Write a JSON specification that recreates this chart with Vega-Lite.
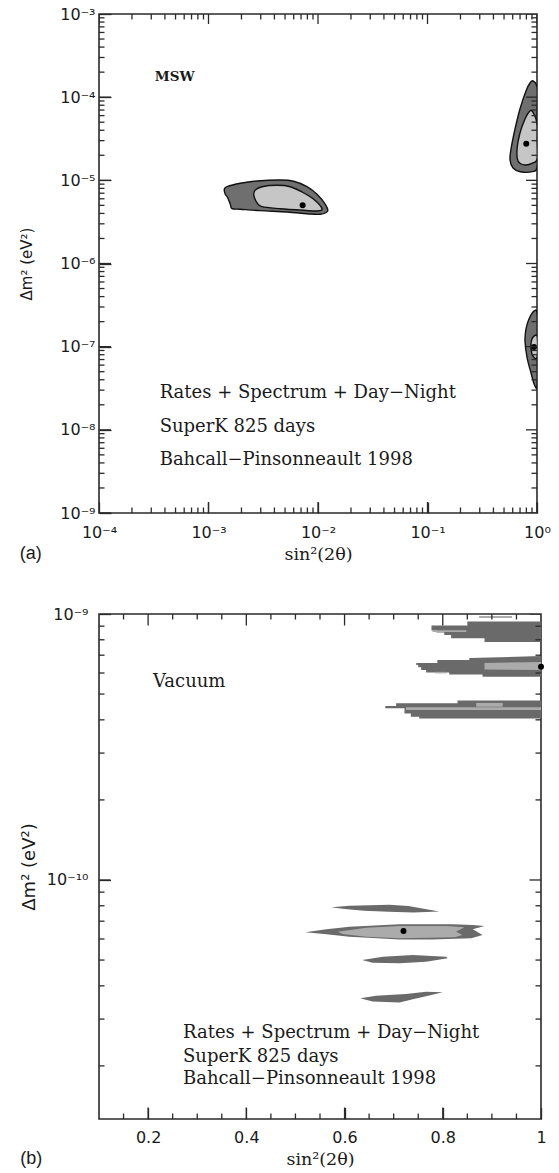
{
  "$schema": "https://vega.github.io/schema/vega-lite/v6.json",
  "padding": {"left": 18, "top": 5, "right": 5, "bottom": 5},
  "background": "white",
  "config": {
    "view": {"stroke": "#2a2a2a", "strokeWidth": 1.6},
    "axis": {"grid": false, "domain": false, "ticks": true, "tickOpacity": 1, "tickColor": "#2a2a2a", "labelColor": "#1a1a1a", "titleColor": "#1a1a1a", "labelFont": "DejaVu Sans", "labelFontSize": 16, "tickWidth": 1.3, "zindex": 1, "labelFlush": false, "labelOverlap": false, "labelBound": false, "titleFontWeight": "normal"},
    "title": {"font": "Liberation Sans", "fontSize": 18, "fontWeight": "normal", "color": "#1a1a1a"},
    "tick": {"opacity": 1, "color": "#2a2a2a", "thickness": 1.3}
  },
  "datasets": {
    "aXmaj": [{"v": 0.0001}, {"v": 0.001}, {"v": 0.01}, {"v": 0.1}, {"v": 1}],
    "aXmin": [{"v": 0.0002},{"v": 0.0003},{"v": 0.0004},{"v": 0.0005},{"v": 0.0006},{"v": 0.0007},{"v": 0.0008},{"v": 0.0009},{"v": 0.002},{"v": 0.003},{"v": 0.004},{"v": 0.005},{"v": 0.006},{"v": 0.007},{"v": 0.008},{"v": 0.009},{"v": 0.02},{"v": 0.03},{"v": 0.04},{"v": 0.05},{"v": 0.06},{"v": 0.07},{"v": 0.08},{"v": 0.09},{"v": 0.2},{"v": 0.3},{"v": 0.4},{"v": 0.5},{"v": 0.6},{"v": 0.7},{"v": 0.8},{"v": 0.9}],
    "aYmaj": [{"v": 1e-9}, {"v": 1e-8}, {"v": 1e-7}, {"v": 1e-6}, {"v": 1e-5}, {"v": 1e-4}, {"v": 1e-3}],
    "aYmin": [{"v": 2e-9},{"v": 3e-9},{"v": 4e-9},{"v": 5e-9},{"v": 6e-9},{"v": 7e-9},{"v": 8e-9},{"v": 9e-9},{"v": 2e-8},{"v": 3e-8},{"v": 4e-8},{"v": 5e-8},{"v": 6e-8},{"v": 7e-8},{"v": 8e-8},{"v": 9e-8},{"v": 2e-7},{"v": 3e-7},{"v": 4e-7},{"v": 5e-7},{"v": 6e-7},{"v": 7e-7},{"v": 8e-7},{"v": 9e-7},{"v": 2e-6},{"v": 3e-6},{"v": 4e-6},{"v": 5e-6},{"v": 6e-6},{"v": 7e-6},{"v": 8e-6},{"v": 9e-6},{"v": 2e-5},{"v": 3e-5},{"v": 4e-5},{"v": 5e-5},{"v": 6e-5},{"v": 7e-5},{"v": 8e-5},{"v": 9e-5},{"v": 2e-4},{"v": 3e-4},{"v": 4e-4},{"v": 5e-4},{"v": 6e-4},{"v": 7e-4},{"v": 8e-4},{"v": 9e-4}],
    "bXmaj": [{"v": 0.2}, {"v": 0.4}, {"v": 0.6}, {"v": 0.8}],
    "bXmin": [{"v": 0.15},{"v": 0.25},{"v": 0.3},{"v": 0.35},{"v": 0.45},{"v": 0.5},{"v": 0.55},{"v": 0.65},{"v": 0.7},{"v": 0.75},{"v": 0.85},{"v": 0.9},{"v": 0.95}],
    "bYmaj": [{"v": 1e-10}, {"v": 1e-9}],
    "bYmin": [{"v": 2e-11},{"v": 3e-11},{"v": 4e-11},{"v": 5e-11},{"v": 6e-11},{"v": 7e-11},{"v": 8e-11},{"v": 9e-11},{"v": 2e-10},{"v": 3e-10},{"v": 4e-10},{"v": 5e-10},{"v": 6e-10},{"v": 7e-10},{"v": 8e-10},{"v": 9e-10}],
    "aOuter": [
      {"r": "sma", "i": 0, "x": 0.001394, "y": 7.80e-6},
      {"r": "sma", "i": 1, "x": 0.001475, "y": 8.38e-6},
      {"r": "sma", "i": 2, "x": 0.001951, "y": 9.21e-6},
      {"r": "sma", "i": 3, "x": 0.002773, "y": 9.82e-6},
      {"r": "sma", "i": 4, "x": 0.004525, "y": 1.009e-5},
      {"r": "sma", "i": 5, "x": 0.00600, "y": 9.74e-6},
      {"r": "sma", "i": 6, "x": 0.00793, "y": 8.38e-6},
      {"r": "sma", "i": 7, "x": 0.00979, "y": 6.80e-6},
      {"r": "sma", "i": 8, "x": 0.01166, "y": 5.15e-6},
      {"r": "sma", "i": 9, "x": 0.01226, "y": 4.28e-6},
      {"r": "sma", "i": 10, "x": 0.01050, "y": 3.91e-6},
      {"r": "sma", "i": 11, "x": 0.00793, "y": 3.97e-6},
      {"r": "sma", "i": 12, "x": 0.00521, "y": 4.16e-6},
      {"r": "sma", "i": 13, "x": 0.002972, "y": 4.32e-6},
      {"r": "sma", "i": 14, "x": 0.001951, "y": 4.49e-6},
      {"r": "sma", "i": 15, "x": 0.001639, "y": 4.56e-6},
      {"r": "sma", "i": 16, "x": 0.001582, "y": 5.15e-6},
      {"r": "sma", "i": 17, "x": 0.001497, "y": 6.18e-6},
      {"r": "sma", "i": 18, "x": 0.001423, "y": 6.80e-6},
      {"r": "lma", "i": 0, "x": 0.919, "y": 1.57e-4},
      {"r": "lma", "i": 1, "x": 1.0, "y": 1.33e-4},
      {"r": "lma", "i": 2, "x": 1.0, "y": 7e-5},
      {"r": "lma", "i": 3, "x": 1.0, "y": 3e-5},
      {"r": "lma", "i": 4, "x": 1.0, "y": 1.45e-5},
      {"r": "lma", "i": 5, "x": 0.900, "y": 1.27e-5},
      {"r": "lma", "i": 6, "x": 0.704, "y": 1.27e-5},
      {"r": "lma", "i": 7, "x": 0.604, "y": 1.41e-5},
      {"r": "lma", "i": 8, "x": 0.567, "y": 1.76e-5},
      {"r": "lma", "i": 9, "x": 0.579, "y": 2.38e-5},
      {"r": "lma", "i": 10, "x": 0.630, "y": 4.14e-5},
      {"r": "lma", "i": 11, "x": 0.699, "y": 7.21e-5},
      {"r": "lma", "i": 12, "x": 0.793, "y": 1.19e-4},
      {"r": "lma", "i": 13, "x": 0.863, "y": 1.48e-4},
      {"r": "low", "i": 0, "x": 0.945, "y": 2.69e-7},
      {"r": "low", "i": 1, "x": 1.0, "y": 2.47e-7},
      {"r": "low", "i": 2, "x": 1.0, "y": 1.0e-7},
      {"r": "low", "i": 3, "x": 1.0, "y": 3.46e-8},
      {"r": "low", "i": 4, "x": 0.949, "y": 3.46e-8},
      {"r": "low", "i": 5, "x": 0.882, "y": 4.83e-8},
      {"r": "low", "i": 6, "x": 0.810, "y": 7.51e-8},
      {"r": "low", "i": 7, "x": 0.777, "y": 1.17e-7},
      {"r": "low", "i": 8, "x": 0.793, "y": 1.63e-7},
      {"r": "low", "i": 9, "x": 0.845, "y": 2.15e-7}
    ],
    "aInner": [
      {"r": "sma", "i": 0, "x": 0.002587, "y": 6.80e-6},
      {"r": "sma", "i": 1, "x": 0.002675, "y": 7.65e-6},
      {"r": "sma", "i": 2, "x": 0.003080, "y": 8.38e-6},
      {"r": "sma", "i": 3, "x": 0.004222, "y": 8.71e-6},
      {"r": "sma", "i": 4, "x": 0.005585, "y": 8.38e-6},
      {"r": "sma", "i": 5, "x": 0.00714, "y": 7.24e-6},
      {"r": "sma", "i": 6, "x": 0.00913, "y": 5.92e-6},
      {"r": "sma", "i": 7, "x": 0.01088, "y": 4.56e-6},
      {"r": "sma", "i": 8, "x": 0.00979, "y": 4.28e-6},
      {"r": "sma", "i": 9, "x": 0.00740, "y": 4.36e-6},
      {"r": "sma", "i": 10, "x": 0.004525, "y": 4.56e-6},
      {"r": "sma", "i": 11, "x": 0.003080, "y": 4.82e-6},
      {"r": "sma", "i": 12, "x": 0.002773, "y": 5.38e-6},
      {"r": "sma", "i": 13, "x": 0.002642, "y": 6.08e-6},
      {"r": "lma", "i": 0, "x": 0.900, "y": 6.82e-5},
      {"r": "lma", "i": 1, "x": 0.979, "y": 5.46e-5},
      {"r": "lma", "i": 2, "x": 1.0, "y": 4.50e-5},
      {"r": "lma", "i": 3, "x": 1.0, "y": 3.0e-5},
      {"r": "lma", "i": 4, "x": 1.0, "y": 1.8e-5},
      {"r": "lma", "i": 5, "x": 0.919, "y": 1.62e-5},
      {"r": "lma", "i": 6, "x": 0.777, "y": 1.53e-5},
      {"r": "lma", "i": 7, "x": 0.671, "y": 1.71e-5},
      {"r": "lma", "i": 8, "x": 0.657, "y": 2.38e-5},
      {"r": "lma", "i": 9, "x": 0.699, "y": 3.71e-5},
      {"r": "lma", "i": 10, "x": 0.777, "y": 5.46e-5},
      {"r": "lma", "i": 11, "x": 0.845, "y": 6.63e-5},
      {"r": "low", "i": 0, "x": 0.900, "y": 1.24e-7},
      {"r": "low", "i": 1, "x": 1.0, "y": 1.34e-7},
      {"r": "low", "i": 2, "x": 1.0, "y": 7.5e-8},
      {"r": "low", "i": 3, "x": 0.919, "y": 7.7e-8},
      {"r": "low", "i": 4, "x": 0.882, "y": 9.6e-8}
    ],
    "aDots": [
      {"x": 0.00724, "y": 5.0e-6},
      {"x": 0.798, "y": 2.76e-5},
      {"x": 0.939, "y": 9.9e-8}
    ],
    "aNotes": [
      {"x": 0.000358, "y": 2.394e-8, "t": "Rates + Spectrum + Day−Night"},
      {"x": 0.000358, "y": 9.50e-9, "t": "SuperK 825 days"},
      {"x": 0.000358, "y": 3.78e-9, "t": "Bahcall−Pinsonneault 1998"}
    ],
    "aLabel": [
      {"x": 0.000323, "y": 1.565e-4, "t": "MSW"}
    ],
    "bOuter": [
      {"r": "b1", "i": 0, "x": 1.0, "y": 9.37e-10},
      {"r": "b1", "i": 1, "x": 0.850, "y": 9.37e-10},
      {"r": "b1", "i": 2, "x": 0.850, "y": 9.05e-10},
      {"r": "b1", "i": 3, "x": 0.777, "y": 9.05e-10},
      {"r": "b1", "i": 4, "x": 0.777, "y": 8.67e-10},
      {"r": "b1", "i": 5, "x": 0.787, "y": 8.67e-10},
      {"r": "b1", "i": 6, "x": 0.787, "y": 8.52e-10},
      {"r": "b1", "i": 7, "x": 0.803, "y": 8.52e-10},
      {"r": "b1", "i": 8, "x": 0.803, "y": 8.34e-10},
      {"r": "b1", "i": 9, "x": 0.817, "y": 8.34e-10},
      {"r": "b1", "i": 10, "x": 0.817, "y": 8.10e-10},
      {"r": "b1", "i": 11, "x": 0.885, "y": 8.10e-10},
      {"r": "b1", "i": 12, "x": 0.885, "y": 7.85e-10},
      {"r": "b1", "i": 13, "x": 1.0, "y": 7.85e-10},
      {"r": "b2", "i": 0, "x": 1.0, "y": 6.95e-10},
      {"r": "b2", "i": 1, "x": 0.854, "y": 6.83e-10},
      {"r": "b2", "i": 2, "x": 0.854, "y": 6.72e-10},
      {"r": "b2", "i": 3, "x": 0.789, "y": 6.72e-10},
      {"r": "b2", "i": 4, "x": 0.789, "y": 6.54e-10},
      {"r": "b2", "i": 5, "x": 0.746, "y": 6.54e-10},
      {"r": "b2", "i": 6, "x": 0.746, "y": 6.43e-10},
      {"r": "b2", "i": 7, "x": 0.750, "y": 6.43e-10},
      {"r": "b2", "i": 8, "x": 0.750, "y": 6.30e-10},
      {"r": "b2", "i": 9, "x": 0.756, "y": 6.30e-10},
      {"r": "b2", "i": 10, "x": 0.756, "y": 6.16e-10},
      {"r": "b2", "i": 11, "x": 0.766, "y": 6.16e-10},
      {"r": "b2", "i": 12, "x": 0.766, "y": 6.02e-10},
      {"r": "b2", "i": 13, "x": 0.813, "y": 6.02e-10},
      {"r": "b2", "i": 14, "x": 0.813, "y": 5.92e-10},
      {"r": "b2", "i": 15, "x": 0.881, "y": 5.92e-10},
      {"r": "b2", "i": 16, "x": 0.881, "y": 5.81e-10},
      {"r": "b2", "i": 17, "x": 1.0, "y": 5.81e-10},
      {"r": "b3", "i": 0, "x": 1.0, "y": 4.73e-10},
      {"r": "b3", "i": 1, "x": 0.830, "y": 4.73e-10},
      {"r": "b3", "i": 2, "x": 0.830, "y": 4.62e-10},
      {"r": "b3", "i": 3, "x": 0.705, "y": 4.62e-10},
      {"r": "b3", "i": 4, "x": 0.705, "y": 4.51e-10},
      {"r": "b3", "i": 5, "x": 0.683, "y": 4.51e-10},
      {"r": "b3", "i": 6, "x": 0.683, "y": 4.42e-10},
      {"r": "b3", "i": 7, "x": 0.722, "y": 4.42e-10},
      {"r": "b3", "i": 8, "x": 0.722, "y": 4.23e-10},
      {"r": "b3", "i": 9, "x": 0.735, "y": 4.23e-10},
      {"r": "b3", "i": 10, "x": 0.735, "y": 4.11e-10},
      {"r": "b3", "i": 11, "x": 0.752, "y": 4.11e-10},
      {"r": "b3", "i": 12, "x": 0.752, "y": 4.05e-10},
      {"r": "b3", "i": 13, "x": 1.0, "y": 4.05e-10},
      {"r": "la", "i": 0, "x": 0.573, "y": 7.89e-11},
      {"r": "la", "i": 1, "x": 0.610, "y": 8.0e-11},
      {"r": "la", "i": 2, "x": 0.691, "y": 8.07e-11},
      {"r": "la", "i": 3, "x": 0.730, "y": 7.98e-11},
      {"r": "la", "i": 4, "x": 0.793, "y": 7.62e-11},
      {"r": "la", "i": 5, "x": 0.740, "y": 7.55e-11},
      {"r": "la", "i": 6, "x": 0.690, "y": 7.60e-11},
      {"r": "la", "i": 7, "x": 0.640, "y": 7.67e-11},
      {"r": "la", "i": 8, "x": 0.600, "y": 7.78e-11},
      {"r": "lb", "i": 0, "x": 0.520, "y": 6.36e-11},
      {"r": "lb", "i": 1, "x": 0.563, "y": 6.53e-11},
      {"r": "lb", "i": 2, "x": 0.610, "y": 6.67e-11},
      {"r": "lb", "i": 3, "x": 0.712, "y": 6.82e-11},
      {"r": "lb", "i": 4, "x": 0.820, "y": 6.82e-11},
      {"r": "lb", "i": 5, "x": 0.861, "y": 6.77e-11},
      {"r": "lb", "i": 6, "x": 0.885, "y": 6.72e-11},
      {"r": "lb", "i": 7, "x": 0.861, "y": 6.53e-11},
      {"r": "lb", "i": 8, "x": 0.881, "y": 6.21e-11},
      {"r": "lb", "i": 9, "x": 0.858, "y": 6.04e-11},
      {"r": "lb", "i": 10, "x": 0.779, "y": 5.98e-11},
      {"r": "lb", "i": 11, "x": 0.712, "y": 5.98e-11},
      {"r": "lb", "i": 12, "x": 0.610, "y": 6.12e-11},
      {"r": "lb", "i": 13, "x": 0.563, "y": 6.25e-11},
      {"r": "lc", "i": 0, "x": 0.636, "y": 5.00e-11},
      {"r": "lc", "i": 1, "x": 0.678, "y": 5.15e-11},
      {"r": "lc", "i": 2, "x": 0.739, "y": 5.22e-11},
      {"r": "lc", "i": 3, "x": 0.807, "y": 5.15e-11},
      {"r": "lc", "i": 4, "x": 0.810, "y": 5.08e-11},
      {"r": "lc", "i": 5, "x": 0.766, "y": 4.93e-11},
      {"r": "lc", "i": 6, "x": 0.712, "y": 4.86e-11},
      {"r": "lc", "i": 7, "x": 0.657, "y": 4.89e-11},
      {"r": "ld", "i": 0, "x": 0.632, "y": 3.59e-11},
      {"r": "ld", "i": 1, "x": 0.664, "y": 3.67e-11},
      {"r": "ld", "i": 2, "x": 0.725, "y": 3.73e-11},
      {"r": "ld", "i": 3, "x": 0.766, "y": 3.80e-11},
      {"r": "ld", "i": 4, "x": 0.800, "y": 3.78e-11},
      {"r": "ld", "i": 5, "x": 0.779, "y": 3.70e-11},
      {"r": "ld", "i": 6, "x": 0.739, "y": 3.56e-11},
      {"r": "ld", "i": 7, "x": 0.712, "y": 3.46e-11},
      {"r": "ld", "i": 8, "x": 0.657, "y": 3.49e-11}
    ],
    "bInner": [
      {"r": "s1", "i": 0, "x": 0.874, "y": 9.83e-10},
      {"r": "s1", "i": 1, "x": 0.941, "y": 9.83e-10},
      {"r": "s1", "i": 2, "x": 0.941, "y": 9.66e-10},
      {"r": "s1", "i": 3, "x": 0.874, "y": 9.66e-10},
      {"r": "s2", "i": 0, "x": 0.779, "y": 8.68e-10},
      {"r": "s2", "i": 1, "x": 0.848, "y": 8.68e-10},
      {"r": "s2", "i": 2, "x": 0.848, "y": 8.56e-10},
      {"r": "s2", "i": 3, "x": 0.779, "y": 8.56e-10},
      {"r": "s3", "i": 0, "x": 0.885, "y": 6.54e-10},
      {"r": "s3", "i": 1, "x": 1.0, "y": 6.60e-10},
      {"r": "s3", "i": 2, "x": 1.0, "y": 6.16e-10},
      {"r": "s3", "i": 3, "x": 0.885, "y": 6.19e-10},
      {"r": "s4", "i": 0, "x": 0.784, "y": 6.06e-10},
      {"r": "s4", "i": 1, "x": 0.808, "y": 6.06e-10},
      {"r": "s4", "i": 2, "x": 0.808, "y": 5.98e-10},
      {"r": "s4", "i": 3, "x": 0.784, "y": 5.98e-10},
      {"r": "s5", "i": 0, "x": 0.868, "y": 4.63e-10},
      {"r": "s5", "i": 1, "x": 0.922, "y": 4.63e-10},
      {"r": "s5", "i": 2, "x": 0.922, "y": 4.48e-10},
      {"r": "s5", "i": 3, "x": 0.868, "y": 4.48e-10},
      {"r": "s6", "i": 0, "x": 0.725, "y": 4.46e-10},
      {"r": "s6", "i": 1, "x": 1.0, "y": 4.46e-10},
      {"r": "s6", "i": 2, "x": 1.0, "y": 4.36e-10},
      {"r": "s6", "i": 3, "x": 0.725, "y": 4.36e-10},
      {"r": "lb", "i": 0, "x": 0.586, "y": 6.39e-11},
      {"r": "lb", "i": 1, "x": 0.644, "y": 6.62e-11},
      {"r": "lb", "i": 2, "x": 0.712, "y": 6.72e-11},
      {"r": "lb", "i": 3, "x": 0.807, "y": 6.72e-11},
      {"r": "lb", "i": 4, "x": 0.844, "y": 6.64e-11},
      {"r": "lb", "i": 5, "x": 0.827, "y": 6.39e-11},
      {"r": "lb", "i": 6, "x": 0.840, "y": 6.21e-11},
      {"r": "lb", "i": 7, "x": 0.824, "y": 6.09e-11},
      {"r": "lb", "i": 8, "x": 0.712, "y": 6.04e-11},
      {"r": "lb", "i": 9, "x": 0.644, "y": 6.12e-11},
      {"r": "lb", "i": 10, "x": 0.596, "y": 6.27e-11}
    ],
    "bDots": [
      {"x": 1.0, "y": 6.33e-10},
      {"x": 0.720, "y": 6.43e-11}
    ],
    "bNotes": [
      {"x": 0.21, "y": 5.31e-10, "t": "Vacuum"},
      {"x": 0.271, "y": 2.547e-11, "t": "Rates + Spectrum + Day−Night"},
      {"x": 0.271, "y": 2.07e-11, "t": "SuperK 825 days"},
      {"x": 0.271, "y": 1.71e-11, "t": "Bahcall−Pinsonneault 1998"}
    ]
  },
  "spacing": 41,
  "vconcat": [
    {
      "width": 438,
      "height": 499,
      "title": {"text": "(a)", "orient": "bottom", "anchor": "start", "frame": "bounds", "baseline": "alphabetic", "offset": -4},
      "resolve": {"axis": {"x": "independent", "y": "independent"}},
      "layer": [
        {
          "data": {"name": "aOuter"},
          "mark": {"type": "line", "interpolate": "cardinal-closed", "fill": "#6f6f6f", "stroke": "#111111", "strokeWidth": 1.4, "clip": true},
          "encoding": {
            "x": {"field": "x", "type": "quantitative", "scale": {"type": "log", "domain": [0.0001, 1], "nice": false},
              "axis": {"orient": "bottom", "values": [0.0001, 0.001, 0.01, 0.1, 1], "offset": -11, "tickSize": 11, "labelPadding": 11,
                "labelExpr": "'10' + (datum.value < 0.5 ? '⁻' : '') + substring('⁰¹²³⁴⁵⁶⁷⁸⁹', abs(round(log(datum.value)/LN10)), abs(round(log(datum.value)/LN10)) + 1)",
                "title": "sin²(2θ)", "titleFont": "DejaVu Serif", "titleFontSize": 17.5, "titlePadding": 5}},
            "y": {"field": "y", "type": "quantitative", "scale": {"type": "log", "domain": [1e-9, 0.001], "nice": false},
              "axis": {"orient": "left", "values": [1e-9, 1e-8, 1e-7, 1e-6, 1e-5, 1e-4, 1e-3], "offset": -12, "tickSize": 12, "labelPadding": 4,
                "labelExpr": "'10' + (datum.value < 0.5 ? '⁻' : '') + substring('⁰¹²³⁴⁵⁶⁷⁸⁹', abs(round(log(datum.value)/LN10)), abs(round(log(datum.value)/LN10)) + 1)",
                "title": "Δm² (eV²)", "titleFont": "DejaVu Sans", "titleFontSize": 15, "titlePadding": 25}},
            "detail": {"field": "r"},
            "order": {"field": "i", "type": "quantitative"}
          }
        },
        {
          "data": {"name": "aInner"},
          "mark": {"type": "line", "interpolate": "cardinal-closed", "fill": "#c6c6c6", "stroke": "#111111", "strokeWidth": 1.4, "clip": true},
          "encoding": {
            "x": {"field": "x", "type": "quantitative", "scale": {"type": "log", "domain": [0.0001, 1], "nice": false}, "axis": null},
            "y": {"field": "y", "type": "quantitative", "scale": {"type": "log", "domain": [1e-9, 0.001], "nice": false}, "axis": null},
            "detail": {"field": "r"},
            "order": {"field": "i", "type": "quantitative"}
          }
        },
        {
          "data": {"name": "aDots"},
          "mark": {"type": "circle", "size": 36, "color": "#000000", "opacity": 1},
          "encoding": {
            "x": {"field": "x", "type": "quantitative", "scale": {"type": "log", "domain": [0.0001, 1], "nice": false}, "axis": null},
            "y": {"field": "y", "type": "quantitative", "scale": {"type": "log", "domain": [1e-9, 0.001], "nice": false}, "axis": null}
          }
        },
        {
          "data": {"name": "aNotes"},
          "mark": {"type": "text", "align": "left", "baseline": "alphabetic", "font": "DejaVu Serif", "fontSize": 18, "color": "#1a1a1a"},
          "encoding": {
            "x": {"field": "x", "type": "quantitative", "scale": {"type": "log", "domain": [0.0001, 1], "nice": false}, "axis": null},
            "y": {"field": "y", "type": "quantitative", "scale": {"type": "log", "domain": [1e-9, 0.001], "nice": false}, "axis": null},
            "text": {"field": "t"}
          }
        },
        {
          "data": {"name": "aLabel"},
          "mark": {"type": "text", "align": "left", "baseline": "alphabetic", "font": "DejaVu Serif", "fontSize": 13.5, "fontWeight": "bold", "color": "#1a1a1a"},
          "encoding": {
            "x": {"field": "x", "type": "quantitative", "scale": {"type": "log", "domain": [0.0001, 1], "nice": false}, "axis": null},
            "y": {"field": "y", "type": "quantitative", "scale": {"type": "log", "domain": [1e-9, 0.001], "nice": false}, "axis": null},
            "text": {"field": "t"}
          }
        },
        {
          "data": {"name": "aXmaj"},
          "mark": {"type": "tick", "orient": "vertical", "size": 22, "thickness": 1.3, "color": "#2a2a2a", "opacity": 1, "clip": true},
          "encoding": {
            "x": {"field": "v", "type": "quantitative", "scale": {"type": "log", "domain": [0.0001, 1], "nice": false}, "axis": null},
            "y": {"datum": 1e-9, "type": "quantitative", "scale": {"type": "log", "domain": [1e-9, 0.001], "nice": false}, "axis": null}
          }
        },
        {
          "data": {"name": "aXmaj"},
          "mark": {"type": "tick", "orient": "vertical", "size": 20, "thickness": 1.3, "color": "#2a2a2a", "opacity": 1, "clip": true},
          "encoding": {
            "x": {"field": "v", "type": "quantitative", "scale": {"type": "log", "domain": [0.0001, 1], "nice": false}, "axis": null},
            "y": {"datum": 0.001, "type": "quantitative", "scale": {"type": "log", "domain": [1e-9, 0.001], "nice": false}, "axis": null}
          }
        },
        {
          "data": {"name": "aXmin"},
          "mark": {"type": "tick", "orient": "vertical", "size": 11, "thickness": 1.3, "color": "#2a2a2a", "opacity": 1, "clip": true},
          "encoding": {
            "x": {"field": "v", "type": "quantitative", "scale": {"type": "log", "domain": [0.0001, 1], "nice": false}, "axis": null},
            "y": {"datum": 1e-9, "type": "quantitative", "scale": {"type": "log", "domain": [1e-9, 0.001], "nice": false}, "axis": null}
          }
        },
        {
          "data": {"name": "aXmin"},
          "mark": {"type": "tick", "orient": "vertical", "size": 11, "thickness": 1.3, "color": "#2a2a2a", "opacity": 1, "clip": true},
          "encoding": {
            "x": {"field": "v", "type": "quantitative", "scale": {"type": "log", "domain": [0.0001, 1], "nice": false}, "axis": null},
            "y": {"datum": 0.001, "type": "quantitative", "scale": {"type": "log", "domain": [1e-9, 0.001], "nice": false}, "axis": null}
          }
        },
        {
          "data": {"name": "aYmaj"},
          "mark": {"type": "tick", "orient": "horizontal", "size": 24, "thickness": 1.3, "color": "#2a2a2a", "opacity": 1, "clip": true},
          "encoding": {
            "x": {"datum": 0.0001, "type": "quantitative", "scale": {"type": "log", "domain": [0.0001, 1], "nice": false}, "axis": null},
            "y": {"field": "v", "type": "quantitative", "scale": {"type": "log", "domain": [1e-9, 0.001], "nice": false}, "axis": null}
          }
        },
        {
          "data": {"name": "aYmaj"},
          "mark": {"type": "tick", "orient": "horizontal", "size": 22, "thickness": 1.3, "color": "#2a2a2a", "opacity": 1, "clip": true},
          "encoding": {
            "x": {"datum": 1, "type": "quantitative", "scale": {"type": "log", "domain": [0.0001, 1], "nice": false}, "axis": null},
            "y": {"field": "v", "type": "quantitative", "scale": {"type": "log", "domain": [1e-9, 0.001], "nice": false}, "axis": null}
          }
        },
        {
          "data": {"name": "aYmin"},
          "mark": {"type": "tick", "orient": "horizontal", "size": 11, "thickness": 1.3, "color": "#2a2a2a", "opacity": 1, "clip": true},
          "encoding": {
            "x": {"datum": 0.0001, "type": "quantitative", "scale": {"type": "log", "domain": [0.0001, 1], "nice": false}, "axis": null},
            "y": {"field": "v", "type": "quantitative", "scale": {"type": "log", "domain": [1e-9, 0.001], "nice": false}, "axis": null}
          }
        },
        {
          "data": {"name": "aYmin"},
          "mark": {"type": "tick", "orient": "horizontal", "size": 11, "thickness": 1.3, "color": "#2a2a2a", "opacity": 1, "clip": true},
          "encoding": {
            "x": {"datum": 1, "type": "quantitative", "scale": {"type": "log", "domain": [0.0001, 1], "nice": false}, "axis": null},
            "y": {"field": "v", "type": "quantitative", "scale": {"type": "log", "domain": [1e-9, 0.001], "nice": false}, "axis": null}
          }
        }
      ]
    },
    {
      "width": 442,
      "height": 505,
      "title": {"text": "(b)", "orient": "bottom", "anchor": "start", "frame": "bounds", "baseline": "alphabetic", "offset": -4},
      "resolve": {"axis": {"x": "independent", "y": "independent"}},
      "layer": [
        {
          "data": {"name": "bOuter"},
          "mark": {"type": "line", "interpolate": "linear-closed", "fill": "#6a6a6a", "strokeWidth": 0, "clip": true},
          "encoding": {
            "x": {"field": "x", "type": "quantitative", "scale": {"type": "linear", "domain": [0.1, 1], "nice": false, "zero": false},
              "axis": {"orient": "bottom", "values": [0.2, 0.4, 0.6, 0.8, 1], "format": "~g", "offset": -11.5, "tickSize": 11.5, "labelPadding": 10,
                "title": "sin²(2θ)", "titleFont": "DejaVu Serif", "titleFontSize": 17.5, "titlePadding": 5}},
            "y": {"field": "y", "type": "quantitative", "scale": {"type": "log", "domain": [1.263e-11, 1e-9], "nice": false},
              "axis": {"orient": "left", "values": [1e-10, 1e-9], "offset": -11.5, "tickSize": 11.5, "labelPadding": 11,
                "labelExpr": "datum.value > 5e-10 ? '10⁻⁹' : '10⁻¹⁰'",
                "title": "Δm²   (eV²)", "titleFont": "DejaVu Sans", "titleFontSize": 18, "titlePadding": 8}},
            "detail": {"field": "r"},
            "order": {"field": "i", "type": "quantitative"}
          }
        },
        {
          "data": {"name": "bInner"},
          "mark": {"type": "line", "interpolate": "linear-closed", "fill": "#ababab", "strokeWidth": 0, "clip": true},
          "encoding": {
            "x": {"field": "x", "type": "quantitative", "scale": {"type": "linear", "domain": [0.1, 1], "nice": false, "zero": false}, "axis": null},
            "y": {"field": "y", "type": "quantitative", "scale": {"type": "log", "domain": [1.263e-11, 1e-9], "nice": false}, "axis": null},
            "detail": {"field": "r"},
            "order": {"field": "i", "type": "quantitative"}
          }
        },
        {
          "data": {"name": "bDots"},
          "mark": {"type": "circle", "size": 36, "color": "#000000", "opacity": 1},
          "encoding": {
            "x": {"field": "x", "type": "quantitative", "scale": {"type": "linear", "domain": [0.1, 1], "nice": false, "zero": false}, "axis": null},
            "y": {"field": "y", "type": "quantitative", "scale": {"type": "log", "domain": [1.263e-11, 1e-9], "nice": false}, "axis": null}
          }
        },
        {
          "data": {"name": "bNotes"},
          "mark": {"type": "text", "align": "left", "baseline": "alphabetic", "font": "DejaVu Serif", "fontSize": 18, "color": "#1a1a1a"},
          "encoding": {
            "x": {"field": "x", "type": "quantitative", "scale": {"type": "linear", "domain": [0.1, 1], "nice": false, "zero": false}, "axis": null},
            "y": {"field": "y", "type": "quantitative", "scale": {"type": "log", "domain": [1.263e-11, 1e-9], "nice": false}, "axis": null},
            "text": {"field": "t"}
          }
        },
        {
          "data": {"name": "bXmaj"},
          "mark": {"type": "tick", "orient": "vertical", "size": 23, "thickness": 1.3, "color": "#2a2a2a", "opacity": 1, "clip": true},
          "encoding": {
            "x": {"field": "v", "type": "quantitative", "scale": {"type": "linear", "domain": [0.1, 1], "nice": false, "zero": false}, "axis": null},
            "y": {"datum": 1.263e-11, "type": "quantitative", "scale": {"type": "log", "domain": [1.263e-11, 1e-9], "nice": false}, "axis": null}
          }
        },
        {
          "data": {"name": "bXmaj"},
          "mark": {"type": "tick", "orient": "vertical", "size": 23, "thickness": 1.3, "color": "#2a2a2a", "opacity": 1, "clip": true},
          "encoding": {
            "x": {"field": "v", "type": "quantitative", "scale": {"type": "linear", "domain": [0.1, 1], "nice": false, "zero": false}, "axis": null},
            "y": {"datum": 1e-9, "type": "quantitative", "scale": {"type": "log", "domain": [1.263e-11, 1e-9], "nice": false}, "axis": null}
          }
        },
        {
          "data": {"name": "bXmin"},
          "mark": {"type": "tick", "orient": "vertical", "size": 11, "thickness": 1.3, "color": "#2a2a2a", "opacity": 1, "clip": true},
          "encoding": {
            "x": {"field": "v", "type": "quantitative", "scale": {"type": "linear", "domain": [0.1, 1], "nice": false, "zero": false}, "axis": null},
            "y": {"datum": 1.263e-11, "type": "quantitative", "scale": {"type": "log", "domain": [1.263e-11, 1e-9], "nice": false}, "axis": null}
          }
        },
        {
          "data": {"name": "bXmin"},
          "mark": {"type": "tick", "orient": "vertical", "size": 11, "thickness": 1.3, "color": "#2a2a2a", "opacity": 1, "clip": true},
          "encoding": {
            "x": {"field": "v", "type": "quantitative", "scale": {"type": "linear", "domain": [0.1, 1], "nice": false, "zero": false}, "axis": null},
            "y": {"datum": 1e-9, "type": "quantitative", "scale": {"type": "log", "domain": [1.263e-11, 1e-9], "nice": false}, "axis": null}
          }
        },
        {
          "data": {"name": "bYmaj"},
          "mark": {"type": "tick", "orient": "horizontal", "size": 23, "thickness": 1.3, "color": "#2a2a2a", "opacity": 1, "clip": true},
          "encoding": {
            "x": {"datum": 0.1, "type": "quantitative", "scale": {"type": "linear", "domain": [0.1, 1], "nice": false, "zero": false}, "axis": null},
            "y": {"field": "v", "type": "quantitative", "scale": {"type": "log", "domain": [1.263e-11, 1e-9], "nice": false}, "axis": null}
          }
        },
        {
          "data": {"name": "bYmaj"},
          "mark": {"type": "tick", "orient": "horizontal", "size": 23, "thickness": 1.3, "color": "#2a2a2a", "opacity": 1, "clip": true},
          "encoding": {
            "x": {"datum": 1, "type": "quantitative", "scale": {"type": "linear", "domain": [0.1, 1], "nice": false, "zero": false}, "axis": null},
            "y": {"field": "v", "type": "quantitative", "scale": {"type": "log", "domain": [1.263e-11, 1e-9], "nice": false}, "axis": null}
          }
        },
        {
          "data": {"name": "bYmin"},
          "mark": {"type": "tick", "orient": "horizontal", "size": 11, "thickness": 1.3, "color": "#2a2a2a", "opacity": 1, "clip": true},
          "encoding": {
            "x": {"datum": 0.1, "type": "quantitative", "scale": {"type": "linear", "domain": [0.1, 1], "nice": false, "zero": false}, "axis": null},
            "y": {"field": "v", "type": "quantitative", "scale": {"type": "log", "domain": [1.263e-11, 1e-9], "nice": false}, "axis": null}
          }
        },
        {
          "data": {"name": "bYmin"},
          "mark": {"type": "tick", "orient": "horizontal", "size": 11, "thickness": 1.3, "color": "#2a2a2a", "opacity": 1, "clip": true},
          "encoding": {
            "x": {"datum": 1, "type": "quantitative", "scale": {"type": "linear", "domain": [0.1, 1], "nice": false, "zero": false}, "axis": null},
            "y": {"field": "v", "type": "quantitative", "scale": {"type": "log", "domain": [1.263e-11, 1e-9], "nice": false}, "axis": null}
          }
        }
      ]
    }
  ]
}
